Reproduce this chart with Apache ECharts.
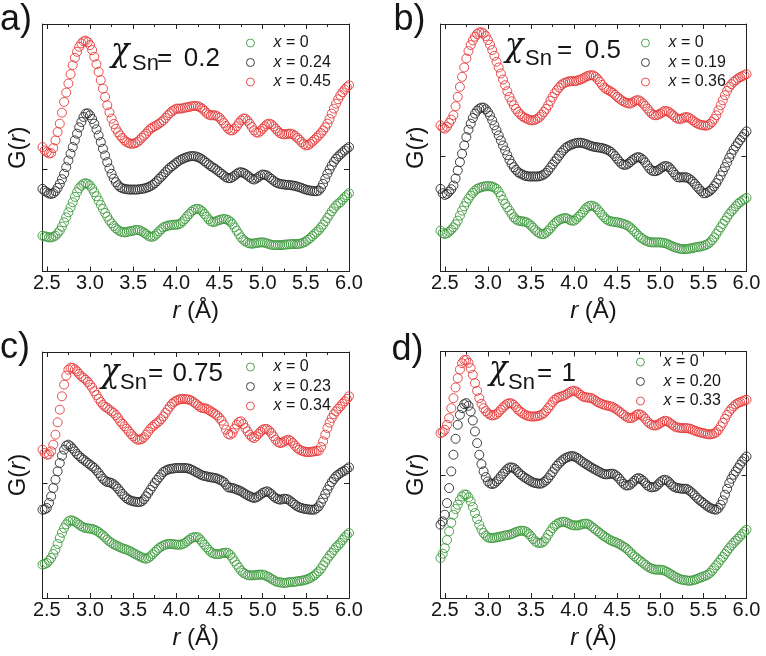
<!DOCTYPE html>
<html><head><meta charset="utf-8">
<script src="https://cdn.jsdelivr.net/npm/echarts@6/dist/echarts.min.js"></script>
<style>html,body{margin:0;padding:0;background:#fff}#c{width:766px;height:656px}</style>
</head><body><div id="c"></div>
<script>
// r (Å) sampling grid
const r = [
  2.45,2.475,2.5,2.525,2.55,2.575,2.6,2.625,2.65,2.675,2.7,2.725,2.75,2.775,2.8,2.825,2.85,2.875,2.9,2.925,2.95,2.975,3.0,3.025,
  3.05,3.075,3.1,3.125,3.15,3.175,3.2,3.225,3.25,3.275,3.3,3.325,3.35,3.375,3.4,3.425,3.45,3.475,3.5,3.525,3.55,3.575,3.6,3.625,
  3.65,3.675,3.7,3.725,3.75,3.775,3.8,3.825,3.85,3.875,3.9,3.925,3.95,3.975,4.0,4.025,4.05,4.075,4.1,4.125,4.15,4.175,4.2,4.225,
  4.25,4.275,4.3,4.325,4.35,4.375,4.4,4.425,4.45,4.475,4.5,4.525,4.55,4.575,4.6,4.625,4.65,4.675,4.7,4.725,4.75,4.775,4.8,4.825,
  4.85,4.875,4.9,4.925,4.95,4.975,5.0,5.025,5.05,5.075,5.1,5.125,5.15,5.175,5.2,5.225,5.25,5.275,5.3,5.325,5.35,5.375,5.4,5.425,
  5.45,5.475,5.5,5.525,5.55,5.575,5.6,5.625,5.65,5.675,5.7,5.725,5.75,5.775,5.8,5.825,5.85,5.875,5.9,5.925,5.95,5.975,6.0];

const xTickLabels = [2.5,3.0,3.5,4.0,4.5,5.0,5.5,6.0];
const xMinorTicks = [2.75,3.25,3.75,4.25,4.75,5.25,5.75];

// panel a) chi_Sn = 0.2  (G(r), arb. units, offset curves)
const aGreen = [
  -200,-202,-203,-205,-205,-203,-200,-193,-185,-173,-160,-145,-130,-115,-100,-84,-70,-58,-50,-45,-43,-45,-50,-59,
  -70,-82,-95,-108,-120,-132,-143,-154,-163,-171,-178,-183,-187,-189,-190,-189,-187,-186,-185,-183,-183,-184,-187,-191,
  -195,-200,-203,-203,-200,-194,-187,-181,-175,-172,-170,-169,-168,-167,-167,-166,-163,-157,-150,-142,-135,-128,-123,-120,
  -120,-122,-127,-135,-143,-151,-157,-159,-158,-155,-153,-151,-150,-151,-153,-158,-165,-175,-185,-195,-205,-212,-217,-221,
  -223,-224,-223,-222,-221,-220,-220,-221,-223,-225,-227,-228,-228,-228,-228,-228,-227,-226,-226,-225,-225,-225,-225,-224,
  -223,-220,-217,-212,-207,-201,-195,-189,-183,-175,-167,-157,-147,-137,-127,-118,-110,-104,-100,-92,-85,-79,-73];
const aBlack = [
  -60,-66,-70,-74,-75,-73,-67,-57,-45,-31,-15,5,25,45,65,85,105,124,140,155,165,166,160,149,
  135,118,100,80,60,40,20,1,-15,-29,-40,-49,-55,-58,-60,-61,-62,-62,-62,-62,-62,-61,-60,-59,
  -57,-55,-52,-48,-43,-37,-30,-24,-17,-10,-3,3,8,13,18,23,27,30,33,35,37,38,38,37,
  35,32,28,23,18,13,8,4,0,-5,-10,-15,-20,-25,-28,-28,-25,-20,-15,-11,-10,-12,-15,-20,
  -25,-30,-32,-29,-25,-20,-17,-18,-20,-25,-30,-35,-40,-43,-45,-46,-47,-48,-48,-49,-50,-51,-53,-55,
  -57,-60,-62,-64,-65,-66,-67,-67,-65,-57,-45,-30,-15,-2,10,21,30,37,43,49,55,60,65];
const aRed = [
  65,55,50,46,47,62,85,110,135,168,200,228,255,283,310,332,350,365,375,381,383,379,370,355,
  335,313,290,265,240,215,190,169,150,134,120,109,100,92,85,80,77,75,75,77,80,86,93,99,
  105,113,120,124,127,131,135,140,145,152,160,166,172,176,180,180,180,181,183,184,185,187,188,188,
  187,184,180,174,167,162,160,160,160,157,153,145,137,128,120,115,115,120,127,137,145,150,150,144,
  135,125,115,109,108,113,120,127,133,135,133,127,120,113,107,104,103,104,105,105,103,99,93,87,
  80,74,70,71,75,81,87,93,100,107,115,124,135,149,165,180,195,208,220,229,237,244,250];

// panel b) chi_Sn = 0.5
const bGreen = [
  -222,-229,-232,-230,-225,-219,-212,-203,-192,-177,-162,-149,-137,-126,-117,-109,-102,-97,-94,-92,-90,-89,-89,-89,
  -90,-93,-97,-106,-117,-130,-142,-152,-162,-172,-182,-188,-192,-193,-194,-195,-197,-201,-207,-213,-220,-226,-230,-232,
  -232,-228,-222,-215,-207,-200,-194,-190,-187,-185,-184,-186,-190,-192,-192,-187,-180,-174,-167,-159,-152,-148,-147,-149,
  -152,-159,-167,-175,-182,-188,-192,-194,-195,-196,-197,-198,-200,-202,-204,-207,-212,-218,-224,-231,-237,-243,-247,-251,
  -254,-256,-257,-257,-257,-257,-257,-258,-259,-261,-264,-267,-270,-272,-274,-276,-277,-277,-277,-276,-275,-274,-272,-271,
  -270,-269,-267,-265,-262,-257,-250,-242,-232,-222,-212,-202,-192,-182,-172,-164,-157,-149,-142,-137,-132,-128,-124];
const bBlack = [
  -97,-110,-115,-112,-105,-98,-87,-66,-42,-17,8,33,58,80,98,115,128,137,143,146,146,141,133,122,
  108,93,78,63,48,33,18,4,-10,-22,-32,-40,-47,-51,-54,-57,-59,-60,-60,-60,-60,-60,-59,-57,
  -54,-49,-42,-33,-24,-15,-7,2,11,18,25,30,33,36,38,40,41,41,40,38,36,33,31,29,
  28,27,26,25,23,21,18,14,8,1,-7,-15,-22,-25,-25,-22,-17,-11,-7,-3,-2,-5,-10,-18,
  -27,-36,-42,-44,-44,-41,-37,-32,-29,-29,-32,-39,-47,-55,-62,-63,-62,-63,-62,-65,-69,-75,-82,-90,
  -97,-104,-110,-110,-107,-103,-97,-89,-80,-69,-57,-45,-32,-18,-4,8,20,30,40,49,58,67,75];
const bRed = [
  93,86,83,89,100,110,123,150,178,208,238,266,293,315,333,347,358,366,371,371,368,360,348,334,
  318,301,283,266,248,230,213,195,178,165,153,142,133,126,120,116,113,110,108,108,110,113,118,125,
  133,142,153,166,178,189,198,206,213,218,221,223,225,225,225,226,228,230,233,236,240,242,243,242,
  238,231,223,214,206,201,198,194,190,184,178,173,168,164,161,159,158,161,165,168,168,164,158,151,
  143,135,128,124,123,125,128,132,136,135,133,128,123,117,113,112,113,116,118,116,113,108,103,99,
  96,94,93,92,93,97,103,112,123,138,153,168,183,196,208,216,223,228,233,237,240,243,246];

// panel c) chi_Sn = 0.75
const cGreen = [
  -245,-243,-240,-233,-225,-213,-200,-183,-165,-149,-135,-124,-115,-112,-113,-116,-120,-125,-130,-133,-135,-136,-137,-138,
  -140,-143,-147,-152,-157,-163,-170,-175,-180,-184,-187,-190,-193,-196,-198,-200,-203,-206,-210,-213,-217,-220,-223,-226,
  -227,-225,-220,-214,-207,-201,-195,-191,-187,-185,-183,-183,-183,-184,-185,-185,-185,-183,-180,-175,-170,-165,-163,-162,
  -163,-169,-177,-185,-193,-200,-207,-211,-213,-213,-213,-211,-210,-209,-210,-216,-225,-235,-245,-254,-263,-269,-273,-276,
  -277,-277,-277,-276,-275,-275,-275,-277,-280,-283,-287,-291,-295,-297,-298,-299,-300,-299,-298,-297,-297,-296,-295,-294,
  -293,-292,-290,-288,-285,-281,-277,-271,-265,-257,-247,-237,-227,-218,-210,-201,-193,-187,-180,-171,-163,-156,-150];
const cBlack = [
  -80,-79,-75,-60,-40,-15,10,35,60,82,100,112,115,110,103,95,87,81,75,70,65,60,55,50,
  45,38,30,21,13,7,3,2,0,-4,-10,-17,-25,-33,-40,-46,-50,-53,-55,-56,-57,-57,-55,-49,
  -40,-30,-20,-10,0,9,17,25,33,37,40,42,43,44,45,45,45,45,45,44,43,40,37,33,
  30,26,23,21,20,18,17,16,15,13,10,7,3,-5,-13,-14,-15,-17,-20,-22,-25,-29,-33,-37,
  -40,-43,-45,-43,-40,-35,-30,-27,-25,-28,-33,-40,-45,-48,-50,-49,-47,-48,-50,-55,-60,-65,-70,-73,
  -75,-77,-78,-79,-80,-80,-80,-76,-70,-59,-47,-33,-20,-8,3,12,20,25,30,34,37,42,47];
const cRed = [
  100,90,85,86,95,115,145,182,220,260,295,322,340,346,345,341,335,327,320,315,310,303,295,286,
  275,264,253,243,235,229,225,220,215,210,203,195,185,178,170,163,155,147,140,134,130,130,132,137,
  145,154,163,169,175,180,185,192,200,210,220,229,237,243,247,250,252,252,252,251,250,247,243,238,
  233,228,225,224,223,219,215,211,207,202,195,187,175,160,147,145,150,163,175,183,185,177,165,155,
  145,138,135,140,147,154,160,162,162,157,150,140,130,123,120,121,125,128,130,126,120,112,105,100,
  97,95,93,93,93,94,95,96,97,108,125,145,165,181,195,206,215,223,230,238,245,252,260];

// panel d) chi_Sn = 1
const dGreen = [
  -250,-237,-220,-196,-170,-144,-120,-103,-90,-76,-65,-59,-60,-68,-80,-97,-115,-133,-150,-164,-175,-183,-188,-190,
  -190,-189,-188,-187,-185,-184,-182,-181,-180,-178,-175,-172,-170,-168,-168,-169,-172,-178,-185,-193,-200,-204,-205,-204,
  -200,-191,-180,-170,-160,-153,-148,-144,-142,-141,-142,-145,-148,-151,-152,-152,-152,-150,-148,-147,-147,-150,-155,-160,
  -165,-170,-175,-180,-185,-189,-193,-197,-200,-202,-205,-208,-212,-216,-220,-226,-232,-239,-245,-250,-255,-260,-265,-270,
  -275,-279,-282,-284,-285,-285,-285,-286,-288,-291,-295,-299,-303,-307,-310,-313,-315,-316,-317,-318,-318,-317,-315,-313,
  -310,-308,-305,-303,-300,-295,-288,-280,-272,-264,-255,-247,-238,-229,-220,-212,-205,-198,-192,-185,-178,-171,-165];
const dBlack = [
  -150,-140,-120,-85,-40,10,60,108,150,180,200,212,215,207,190,163,130,95,60,32,10,-7,-20,-26,
  -28,-26,-20,-13,-5,3,10,17,22,22,20,15,8,2,-3,-8,-12,-16,-20,-23,-25,-26,-27,-26,
  -22,-17,-10,-1,8,18,27,34,40,46,50,53,55,56,55,52,48,43,38,34,30,26,22,18,
  15,11,8,4,2,1,2,3,3,0,-5,-12,-20,-27,-32,-32,-30,-24,-18,-12,-10,-13,-18,-25,
  -32,-36,-38,-37,-35,-29,-22,-17,-15,-17,-22,-29,-35,-38,-40,-41,-42,-42,-42,-45,-50,-56,-62,-69,
  -75,-80,-85,-90,-95,-99,-102,-104,-105,-100,-90,-77,-60,-42,-25,-12,0,10,20,30,40,48,55];
const dRed = [
  125,128,135,150,170,200,230,262,290,316,335,344,345,336,320,300,275,252,230,213,200,191,185,180,
  178,179,182,188,195,202,208,213,215,214,210,203,195,190,185,181,178,176,175,175,175,176,178,181,
  185,192,200,209,218,225,230,233,235,237,240,244,248,251,252,250,245,240,235,233,232,231,230,227,
  222,218,215,212,210,208,207,205,203,199,195,190,185,180,175,171,170,171,175,180,182,180,175,168,
  160,154,150,148,148,151,155,159,162,161,158,153,148,144,142,141,140,140,140,139,138,135,132,130,
  128,126,125,123,122,121,122,124,128,135,145,156,168,180,190,198,205,211,215,218,220,223,225];

const panelLetters = ['a)','b)','c)','d)'];
const chiNumbers = ['0.2','0.5','0.75','1'];
const xValuesA = ['0','0.24','0.45'];
const xValuesB = ['0','0.19','0.36'];
const xValuesC = ['0','0.23','0.34'];
const xValuesD = ['0','0.20','0.33'];

const FONT = '"Liberation Sans", Arial, Helvetica, sans-serif';
const COLORS = ['#3d9a3d', '#2b2b2b', '#e53a3a'];
const INK = '#161616';

const panels = [
  {grid:{left:42.5, top:24, width:306.5, height:247.5}, y:[-307,433], data:[aGreen,aBlack,aRed], xs:xValuesA,
   legend:{left:246, top:35}, letter:{x:0, y:20.5},
   chi:{x:111, y:52}, sn:{x:132, y:63.9}, eq:{x:157, y:58.7}, num:{x:220, y:58.7}},
  {grid:{left:440.5, top:24, width:306, height:247.5}, y:[-344,396], data:[bGreen,bBlack,bRed], xs:xValuesB,
   legend:{left:641, top:35}, letter:{x:393.5, y:20.5},
   chi:{x:505, y:47}, sn:{x:525, y:59.1}, eq:{x:557, y:51}, num:{x:621, y:51}},
  {grid:{left:42.5, top:352, width:306.5, height:246}, y:[-345,393], data:[cGreen,cBlack,cRed], xs:xValuesC,
   legend:{left:246, top:359}, letter:{x:0, y:348.5},
   chi:{x:101, y:373}, sn:{x:120, y:383.4}, eq:{x:148, y:374}, num:{x:223, y:374}},
  {grid:{left:440.5, top:351.5, width:306, height:246.5}, y:[-370,370], data:[dGreen,dBlack,dRed], xs:xValuesD,
   legend:{left:636, top:354}, letter:{x:391.5, y:350.5},
   chi:{x:489, y:370}, sn:{x:508, y:383.4}, eq:{x:537, y:374}, num:{x:576, y:374}}
];

const axisLineStyle = {color:'#222', width:1};
const grids = [], xAxes = [], yAxes = [], series = [], legends = [], graphics = [];
const nameMap = {};
const txt = (x, y, text, font, align, extra) => Object.assign({type:'text', x:x, y:y, silent:true,
  style:{text:text, font:font, fill:INK, align:align, verticalAlign:'middle', textAlign:align, textVerticalAlign:'middle'}}, extra || {});

panels.forEach((p, i) => {
  grids.push(Object.assign({containLabel:false}, p.grid));
  const mkX = (pos, major, labels) => ({
    type:'value', gridIndex:i, position:pos, min:2.45, max:6.0,
    axisLine:{show:true, onZero:false, lineStyle:axisLineStyle},
    axisTick:{show:true, inside:true, length: major ? 5 : 3, customValues: major ? xTickLabels : xMinorTicks, lineStyle:axisLineStyle},
    axisLabel:{show:labels, customValues:xTickLabels, formatter:v => Number(v).toFixed(1),
      fontSize:20, color:INK, fontFamily:FONT, margin:2},
    splitLine:{show:false},
    name: labels ? '{i|r} (Å)' : '', nameLocation:'middle', nameGap:28,
    nameTextStyle:{fontSize:24, color:INK, fontFamily:FONT,
      rich:{i:{fontStyle:'italic', fontSize:24, color:INK, fontFamily:FONT}}}
  });
  xAxes.push(mkX('bottom', true, true));
  xAxes.push(mkX('bottom', false, false));
  xAxes.push(mkX('top', true, false));
  xAxes.push(mkX('top', false, false));
  const mkY = (pos, named) => ({
    type:'value', gridIndex:i, position:pos, min:p.y[0], max:p.y[1],
    axisLine:{show:true, onZero:false, lineStyle:axisLineStyle},
    axisTick:{show:true, inside:true, length:5, customValues:[0], lineStyle:axisLineStyle},
    axisLabel:{show:false}, splitLine:{show:false},
    name: named ? 'G({i|r})' : '', nameLocation:'middle', nameGap:12,
    nameTextStyle:{fontSize:24, color:INK, fontFamily:FONT,
      rich:{i:{fontStyle:'italic', fontSize:24, color:INK, fontFamily:FONT}}}
  });
  yAxes.push(mkY('left', true));
  yAxes.push(mkY('right', false));

  const ids = [];
  p.data.forEach((arr, k) => {
    const id = 'p' + i + 's' + k;
    ids.push(id);
    nameMap[id] = p.xs[k];
    series.push({
      type:'scatter', name:id, xAxisIndex:4*i, yAxisIndex:2*i,
      data: r.map((x, j) => [x, arr[j]]),
      symbol:'circle', symbolSize:9, silent:true, clip:false,
      itemStyle:{color:'rgba(255,255,255,0)', borderColor:COLORS[k], borderWidth:0.9, opacity:1}
    });
  });
  legends.push({
    show:true, orient:'vertical', left:p.legend.left, top:p.legend.top, padding:0,
    itemWidth:8, itemHeight:8, itemGap:3.5, selectedMode:false, data:ids,
    itemStyle:{borderWidth:0.9},
    formatter: n => '{s|}{i|x} = ' + nameMap[n],
    textStyle:{fontSize:16, color:INK, fontFamily:FONT, lineHeight:16,
      rich:{s:{width:14}, i:{fontStyle:'italic', fontSize:16, color:INK, fontFamily:FONT, lineHeight:16}}}
  });

  graphics.push(txt(p.letter.x, p.letter.y, panelLetters[i], '36px ' + FONT, 'left'));
  graphics.push(txt(p.chi.x, p.chi.y, 'χ', 'italic 34px "DejaVu Serif", "Liberation Serif", serif', 'left', {scaleX:0.9}));
  graphics.push(txt(p.sn.x, p.sn.y, 'Sn', '22px ' + FONT, 'left'));
  graphics.push(txt(p.eq.x, p.eq.y, '=', '26px ' + FONT, 'left'));
  graphics.push(txt(p.num.x, p.num.y, chiNumbers[i], '26px ' + FONT, 'right'));
});

const chart = echarts.init(document.getElementById('c'), null, {renderer:'canvas'});
chart.setOption({
  backgroundColor:'#ffffff',
  animation:false,
  grid:grids, xAxis:xAxes, yAxis:yAxes, series:series, legend:legends, graphic:graphics
});
</script>
</body></html>
